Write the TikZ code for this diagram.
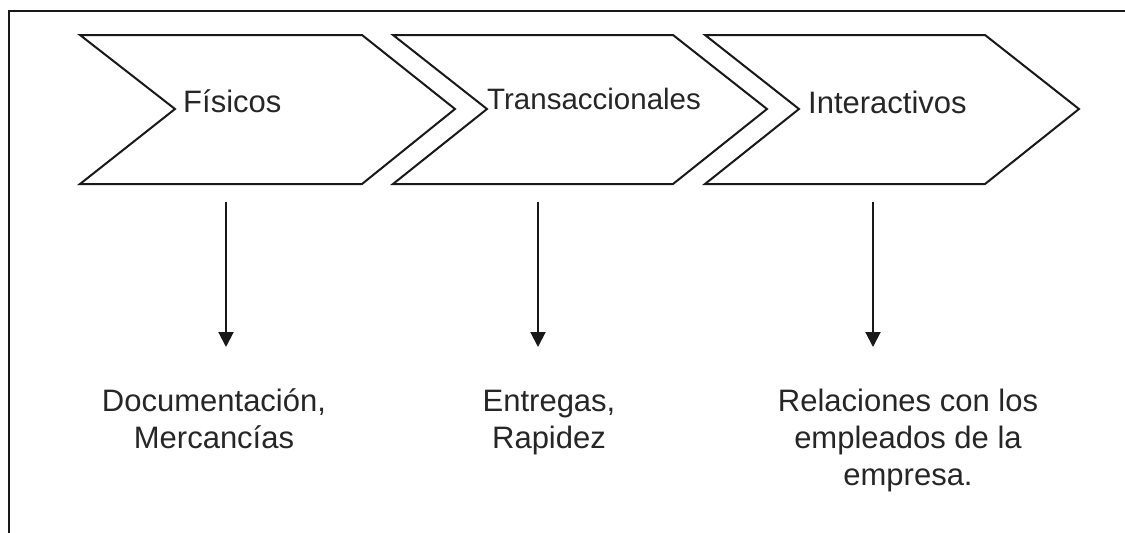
\documentclass[tikz,border=0pt]{standalone}
\usepackage{fontspec}
\setmainfont{Liberation Sans}
\usetikzlibrary{arrows.meta}
\tikzset{
  frameline/.style={line width=2.6pt, black!90},
  chev/.style={line width=2pt, black!90, line join=miter},
  arr/.style={line width=2pt, black!90, -{Triangle[width=15pt,length=15pt]}},
  chevlabel/.style={anchor=base west, inner sep=0pt, text=black!85, font=\fontsize{31pt}{36pt}\selectfont},
  desc/.style={anchor=base, inner sep=0pt, align=center, text=black!85, font=\fontsize{31pt}{37pt}\selectfont}
}
\begin{document}
\begin{tikzpicture}[x=1pt,y=-1pt]
\useasboundingbox (0,0) rectangle (1125,533);
% frame (top and left)
\coordinate (fbl) at (9,533);
\coordinate (ftl) at (9,11);
\coordinate (ftr) at (1125,11);
\draw[frameline] (fbl) -- (ftl) -- (ftr);
% chevrons
\draw[chev] (80,35) -- (362,35) -- (455,109) -- (362,184) -- (80,184) -- (175,109) -- cycle;
\draw[chev] (393,35) -- (673,35) -- (767,109) -- (673,184) -- (393,184) -- (487,109) -- cycle;
\draw[chev] (705,35) -- (985,35) -- (1079,109) -- (985,184) -- (705,184) -- (799,109) -- cycle;
% labels
\node[chevlabel] (c1) at (183,112) {Físicos};
\node[chevlabel, font=\fontsize{29.5pt}{35pt}\selectfont] (c2) at (487,109) {Transaccionales};
\node[chevlabel] (c3) at (808,113) {Interactivos};
% arrows
\coordinate (a1s) at (226,202); \coordinate (a1e) at (226,347);
\coordinate (a2s) at (538,202); \coordinate (a2e) at (538,347);
\coordinate (a3s) at (873,202); \coordinate (a3e) at (873,347);
\draw[arr] (a1s) -- (a1e);
\draw[arr] (a2s) -- (a2e);
\draw[arr] (a3s) -- (a3e);
% descriptions (base = baseline of last line)
\node[desc] (d1) at (214,448) {Documentación,\\Mercancías};
\node[desc] (d2) at (549,448) {Entregas,\\Rapidez};
\node[desc] (d3) at (908,485) {Relaciones con los\\empleados de la\\empresa.};
\end{tikzpicture}
\end{document}
